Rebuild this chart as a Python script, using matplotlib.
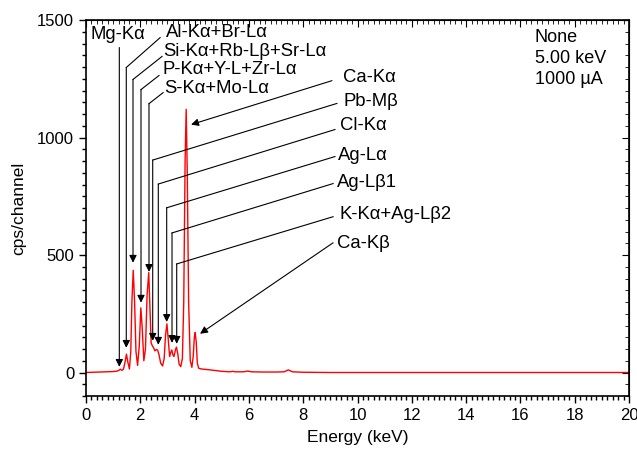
import matplotlib
matplotlib.use("Agg")
import matplotlib.pyplot as plt
from matplotlib.ticker import MultipleLocator

plt.rcParams["font.family"] = ["Liberation Sans", "DejaVu Sans"]
plt.rcParams["font.size"] = 12

# spectrum (keV, cps/channel)
energy = [0, 0.5, 1.0, 1.15, 1.22, 1.27, 1.32, 1.38, 1.44, 1.49, 1.54, 1.60,
          1.65, 1.69, 1.74, 1.79, 1.84, 1.90, 1.96, 2.02, 2.07, 2.13, 2.19,
          2.25, 2.31, 2.36, 2.40, 2.44, 2.49, 2.54, 2.59, 2.64, 2.69, 2.75,
          2.82, 2.88, 2.93, 2.98, 3.03, 3.08, 3.12, 3.16, 3.20, 3.24, 3.29,
          3.33, 3.38, 3.43, 3.49, 3.55, 3.60, 3.65, 3.69, 3.73, 3.78, 3.84,
          3.90, 3.95, 3.99, 4.02, 4.06, 4.10, 4.15, 4.25, 4.5, 4.8, 5.0, 5.3,
          5.4, 5.5, 5.8, 5.95, 6.1, 6.5, 7.0, 7.3, 7.45, 7.6, 8.0, 9, 10, 12,
          14, 16, 18, 20]
counts = [0, 2, 4, 6, 10, 14, 9, 14, 45, 78, 45, 15,
          90, 300, 435, 300, 90, 30, 110, 275, 190, 50, 100,
          330, 425, 260, 125, 115, 105, 92, 98, 95, 75, 40,
          28, 60, 160, 207, 140, 68, 85, 96, 75, 68, 95,
          108, 80, 35, 25, 60, 300, 900, 1120, 850, 300, 50,
          22, 70, 150, 170, 130, 40, 18, 15, 12, 8, 5, 3,
          5, 3, 3, 6, 3, 2, 2, 3, 11, 3, 1, 0, 0, 0,
          0, 0, 0, 0]

# peak labels
labels = ["Mg-K\u03b1", "Al-K\u03b1+Br-L\u03b1", "Si-K\u03b1+Rb-L\u03b2+Sr-L\u03b1",
          "P-K\u03b1+Y-L+Zr-L\u03b1", "S-K\u03b1+Mo-L\u03b1", "Ca-K\u03b1",
          "Pb-M\u03b2", "Cl-K\u03b1", "Ag-L\u03b1", "Ag-L\u03b21",
          "K-K\u03b1+Ag-L\u03b22", "Ca-K\u03b2"]
tip_e = [1.227, 1.484, 1.731, 2.026, 2.320, 3.87, 2.457, 2.663, 2.972, 3.168, 3.341, 4.20]
tip_y = [24, 105, 467, 297, 428, 1055, 135, 118, 215, 126, 122, 165]

# label layout: text anchor, line start, bend point (None = straight arrow)
text_xy = [(0.15, 1438), (2.95, 1447), (2.84, 1366), (2.80, 1289), (2.88, 1208),
           (9.47, 1255), (9.47, 1153), (9.36, 1051), (9.28, 923), (9.25, 808),
           (9.33, 672), (9.25, 548)]
start_xy = [(1.227, 1383), (2.73, 1425), (2.80, 1345), (2.69, 1264), (2.84, 1191),
            (9.06, 1242), (9.24, 1145), (9.17, 1034), (9.17, 919), (9.10, 804),
            (9.10, 663), (9.10, 552)]
bend_xy = [None, (1.484, 1298), (1.731, 1247), (2.026, 1204), (2.320, 1144),
           None, (2.457, 904), (2.663, 802), (2.972, 701), (3.168, 594),
           (3.341, 462), None]

fig = plt.figure(figsize=(6.37, 4.5), dpi=100)
ax = fig.add_axes([0.135, 0.12, 0.8525, 0.8355])

ax.plot(energy, counts, color="red", lw=1.0)

for lab, te, ty, txy, sxy, bxy in zip(labels, tip_e, tip_y, text_xy, start_xy, bend_xy):
    ax.text(txy[0], txy[1], lab, ha="left", va="center", fontsize=13.3)
    if bxy is None:
        src = sxy
    else:
        ax.plot([sxy[0], bxy[0]], [sxy[1], bxy[1]], color="black", lw=0.8)
        src = bxy
    ax.annotate("", xy=(te, ty), xytext=src,
                arrowprops=dict(arrowstyle="-|>", color="black", lw=0.8,
                                mutation_scale=11, shrinkA=0, shrinkB=0))

ax.text(0.826, 0.975, "None\n5.00 keV\n1000 \u00b5A", transform=ax.transAxes,
        ha="left", va="top", fontsize=13, linespacing=1.3)

ax.set_xlim(0, 20)
ax.set_ylim(-100, 1500)
ax.set_xticks(range(0, 21, 2))
ax.set_yticks([0, 500, 1000, 1500])
ax.xaxis.set_minor_locator(MultipleLocator(0.2))
ax.yaxis.set_minor_locator(MultipleLocator(50))
ax.tick_params(which="both", direction="out", top=False, right=False)
ax.tick_params(which="major", length=5, width=1)
ax.tick_params(which="minor", length=3, width=1)

# inward mirrored ticks on top and right
ax2 = ax.secondary_xaxis("top")
ax2.set_xticks(range(0, 21, 2))
ax2.xaxis.set_minor_locator(MultipleLocator(0.2))
ax2.tick_params(which="both", direction="in", labeltop=False)
ax2.tick_params(which="major", length=5)
ax2.tick_params(which="minor", length=3)
ay2 = ax.secondary_yaxis("right")
ay2.set_yticks([0, 500, 1000, 1500])
ay2.yaxis.set_minor_locator(MultipleLocator(50))
ay2.tick_params(which="both", direction="in", labelright=False)
ay2.tick_params(which="major", length=5)
ay2.tick_params(which="minor", length=3)

for sp in ax.spines.values():
    sp.set_linewidth(1.2)

ax.set_xlabel("Energy (keV)", fontsize=12.5, labelpad=5)
ax.set_ylabel("cps/channel", fontsize=12.5, labelpad=8)

fig.savefig("out.png", dpi=100)
